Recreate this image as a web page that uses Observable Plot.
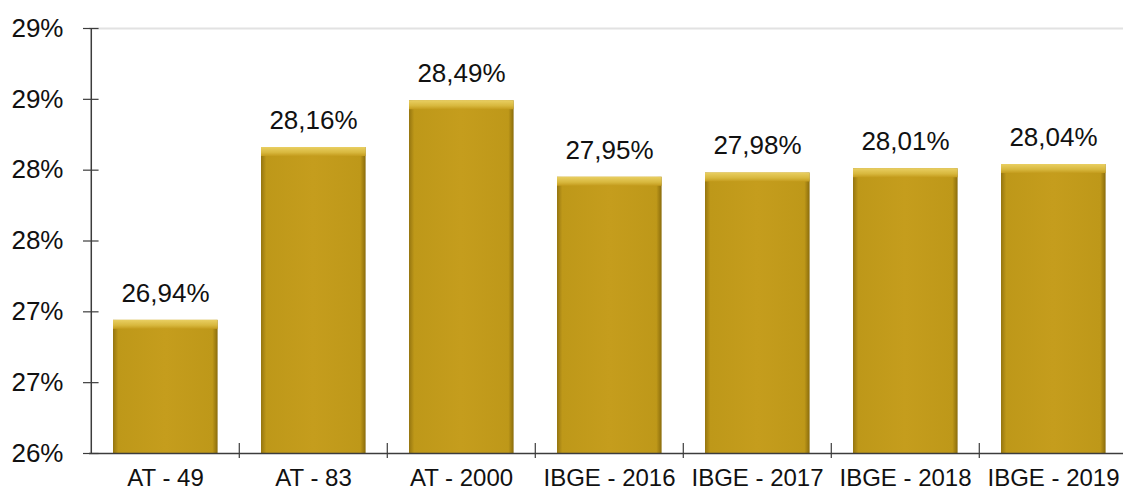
<!DOCTYPE html>
<html>
<head>
<meta charset="utf-8">
<script src="https://cdn.jsdelivr.net/npm/d3@7"></script>
<script src="https://cdn.jsdelivr.net/npm/@observablehq/plot@0.6"></script>
<style>
  html, body { margin: 0; padding: 0; background: #ffffff; }
  svg { display: block; }
</style>
</head>
<body>
<div id="chart"></div>
<script>
const categories = ["AT - 49", "AT - 83", "AT - 2000", "IBGE - 2016", "IBGE - 2017", "IBGE - 2018", "IBGE - 2019"];
const values = [26.94, 28.16, 28.49, 27.95, 27.98, 28.01, 28.04];
const yTicks = [26, 26.5, 27, 27.5, 28, 28.5, 29];

const data = categories.map((c, i) => ({cat: c, v: values[i], label: values[i].toFixed(2).replace(".", ",") + "%"}));

const xRange = [89, 1128];
const bw = (xRange[1] - xRange[0]) / categories.length;
const axisColor = "#3c3c3c";

const chart = Plot.plot({
  width: 1123,
  height: 491,
  marginTop: 0,
  marginLeft: 89,
  marginRight: 0,
  marginBottom: 38,
  style: {fontFamily: "'Liberation Sans', Arial, sans-serif", color: "#111", background: "#fff"},
  x: {domain: categories, range: xRange, padding: 0},
  y: {domain: [26, 29], range: [453, 28]},
  marks: [
    Plot.ruleY([29], {y: d => d, stroke: "#e2e2e2", strokeWidth: 2}),
    Plot.barY(data, {x: "cat", y1: 26, y2: "v", insetLeft: 22, insetRight: 21.4, fill: "url(#barGrad)"}),
    Plot.barY(data, {x: "cat", y1: "v", y2: "v", insetLeft: 22, insetRight: 21.4, insetBottom: -9, fill: "url(#bevelGrad)"}),
    Plot.text(data, {x: "cat", y: "v", text: "label", dy: -27, fontSize: 26, fill: "#111", lineAnchor: "middle"}),
    Plot.ruleY([26], {y: d => d, stroke: axisColor, strokeWidth: 1.5}),
    Plot.ruleX([categories[0]], {x: d => d, dx: -bw / 2, y1: 26, y2: 29, stroke: axisColor, strokeWidth: 1.5}),
    Plot.ruleX(categories.slice(1), {x: d => d, dx: -bw / 2, y1: 26, y2: 26, insetTop: -10, insetBottom: -5, stroke: axisColor, strokeWidth: 1.2}),
    Plot.tickY(yTicks, {y: d => d, x: () => categories[0], dx: -8, insetRight: bw - 16, stroke: axisColor, strokeWidth: 1.2}),
    Plot.axisY({ticks: yTicks, tickSize: 0, tickPadding: 26, tickFormat: d => Math.round(d) + "%", fontSize: 26, label: null}),
    Plot.axisX({tickSize: 0, tickPadding: 15, fontSize: 24, label: null})
  ]
});

const defs = d3.select(chart).insert("defs", ":first-child");
const g1 = defs.append("linearGradient").attr("id", "barGrad").attr("x1", "0").attr("x2", "1").attr("y1", "0").attr("y2", "0");
[["0%", "#957510"], ["5%", "#BE9819"], ["50%", "#C59D1D"], ["95%", "#BE9819"], ["100%", "#8A6C0C"]].forEach(([o, c]) => g1.append("stop").attr("offset", o).attr("stop-color", c));
const g2 = defs.append("linearGradient").attr("id", "bevelGrad").attr("x1", "0").attr("x2", "0").attr("y1", "0").attr("y2", "1");
[["0%", "#E9CF62"], ["60%", "#D8B83E"], ["100%", "#C49C1D"]].forEach(([o, c]) => g2.append("stop").attr("offset", o).attr("stop-color", c));

document.getElementById("chart").appendChild(chart);
</script>
</body>
</html>
